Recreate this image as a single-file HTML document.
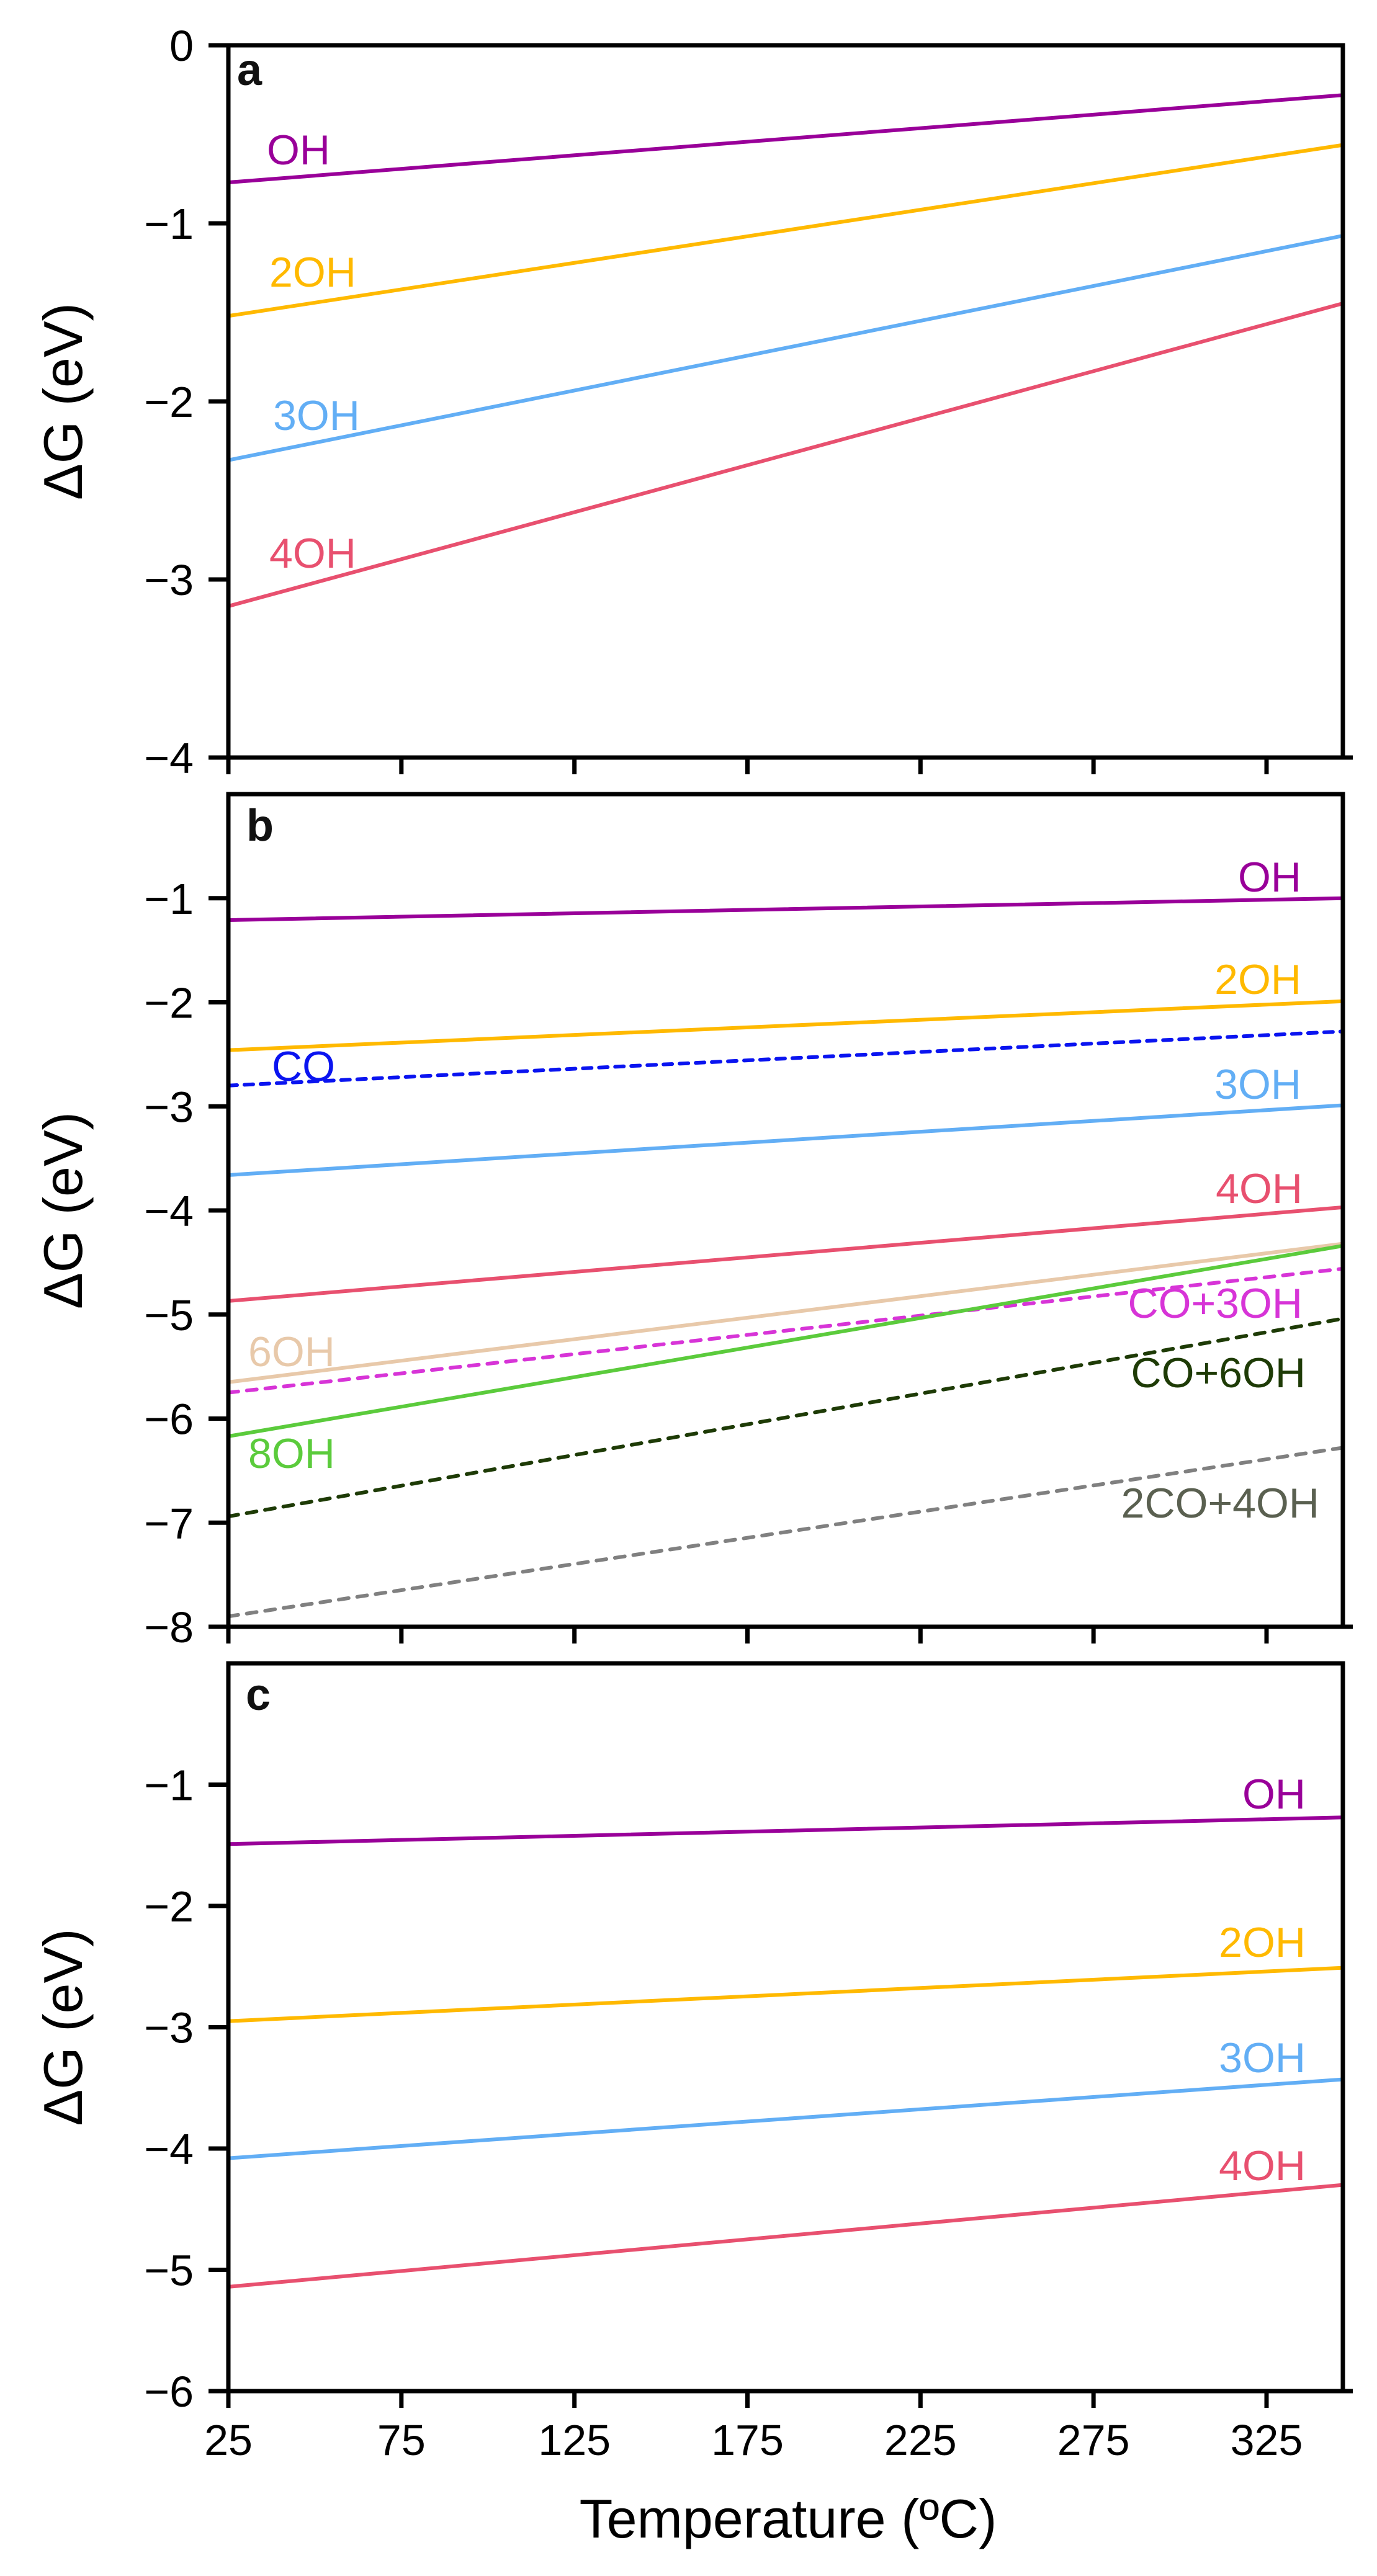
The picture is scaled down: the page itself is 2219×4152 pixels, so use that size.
<!DOCTYPE html>
<html><head><meta charset="utf-8">
<style>
html,body{margin:0;padding:0;background:#fff;}
svg{display:block;font-family:"Liberation Sans",Arial,sans-serif;}
</style></head>
<body>
<svg id="chart" width="2219" height="4152" viewBox="0 0 2219 4152" xmlns="http://www.w3.org/2000/svg"></svg>
<script>
// ---- data ----
const xTicks = [25, 75, 125, 175, 225, 275, 325];
const tStart = 25, tEnd = 347;
// panel a
const aNames = ["OH", "2OH", "3OH", "4OH"];
const aStart = [-0.77, -1.52, -2.33, -3.15];
const aEnd = [-0.28, -0.56, -1.07, -1.45];
const aTicks = [0, -1, -2, -3, -4];
// panel b
const bNames = ["OH", "2OH", "CO", "3OH", "4OH", "6OH", "CO+3OH", "8OH", "CO+6OH", "2CO+4OH"];
const bStart = [-1.21, -2.46, -2.8, -3.66, -4.87, -5.65, -5.75, -6.17, -6.94, -7.9];
const bEnd = [-1.0, -1.99, -2.28, -2.99, -3.97, -4.32, -4.56, -4.34, -5.04, -6.28];
const bTicks = [-1, -2, -3, -4, -5, -6, -7, -8];
// panel c
const cNames = ["OH", "2OH", "3OH", "4OH"];
const cStart = [-1.49, -2.95, -4.08, -5.14];
const cEnd = [-1.27, -2.51, -3.43, -4.30];
const cTicks = [-1, -2, -3, -4, -5, -6];

const NS = "http://www.w3.org/2000/svg";
const svg = document.getElementById("chart");
function mk(tag, attrs, parent) {
  const e = document.createElementNS(NS, tag);
  for (const k in attrs) e.setAttribute(k, attrs[k]);
  (parent || svg).appendChild(e);
  return e;
}
const X0 = 368, X1 = 2164;
function xs(t) { return 368 + (t - 25) * (2041 - 368) / 300; }

const colors = {"OH":"#990099","2OH":"#FFB900","3OH":"#62AEF5","4OH":"#E8506F","CO":"#0A14F0",
  "6OH":"#E8C9AA","CO+3OH":"#D734D7","8OH":"#5BCB3C","CO+6OH":"#1E3B06","2CO+4OH":"#808080"};
const dashed = {"CO":"14,12","CO+3OH":"16,14","CO+6OH":"16,14","2CO+4OH":"16,14"};

function panel(key, top, bottom, ymax, ymin, ticks, names, starts, ends, labels, letter, tickLabelsBottom) {
  const g = mk("g", {});
  
  
  const ys = v => top + (ymax - v) * (bottom - top) / (ymax - ymin);
  names.forEach((n, i) => {
    const l = mk("line", {x1: xs(tStart), y1: ys(starts[i]), x2: xs(tEnd), y2: ys(ends[i]),
      stroke: colors[n], "stroke-width": 6, "stroke-linecap": "round"}, g);
    if (dashed[n]) l.setAttribute("stroke-dasharray", dashed[n]);
    
    
  });
  const f = mk("rect", {x: X0, y: top, width: X1 - X0, height: bottom - top, fill: "none", stroke: "#000", "stroke-width": 7}, g);
  
  
  mk("line", {x1: X0, y1: bottom, x2: 2180, y2: bottom, stroke: "#000", "stroke-width": 7}, g);
  ticks.forEach(v => {
    const y = ys(v);
    mk("line", {x1: 336, y1: y, x2: X0, y2: y, stroke: "#000", "stroke-width": 7}, g);
    const t = mk("text", {x: 312, y: y + 25, "text-anchor": "end", "font-size": 70, fill: "#000"}, g);
    t.textContent = (v < 0 ? "\u2212" : "") + Math.abs(v);
    
    
  });
  xTicks.forEach(v => {
    mk("line", {x1: xs(v), y1: bottom, x2: xs(v), y2: bottom + 27, stroke: "#000", "stroke-width": 7}, g);
    if (tickLabelsBottom) {
      const t = mk("text", {x: xs(v), y: bottom + 103, "text-anchor": "middle", "font-size": 70, fill: "#000"}, g);
      t.textContent = v;
      
      
    }
  });
  labels.forEach(L => {
    const t = mk("text", {x: L[1], y: L[2], "text-anchor": L[3], "font-size": 68, fill: L[4] || colors[L[0]]}, g);
    t.textContent = L[0];
    
    
  });
  const lt = mk("text", {x: letter[0], y: letter[1], "font-size": 72, "font-weight": "bold", fill: "#111"}, g);
  lt.textContent = key;
  
  
  const yt = mk("text", {x: 0, y: 0, "text-anchor": "middle", "font-size": 88, fill: "#000",
    transform: "translate(132," + ((top + bottom) / 2) + ") rotate(-90)"}, g);
  yt.textContent = "\u0394G (eV)";
  
  
}

panel("a", 73, 1221, 0, -4, aTicks, aNames, aStart, aEnd, [
  ["OH", 430, 265, "start"], ["2OH", 434, 462, "start"], ["3OH", 440, 693, "start"], ["4OH", 434, 915, "start"]
], [382, 137], false);

panel("b", 1280, 2622, 0, -8, bTicks, bNames, bStart, bEnd, [
  ["OH", 2097, 1437, "end"], ["2OH", 2097, 1602, "end"], ["3OH", 2097, 1771, "end"], ["4OH", 2099, 1939, "end"],
  ["CO", 438, 1742, "start"], ["6OH", 400, 2202, "start"], ["8OH", 400, 2366, "start"],
  ["CO+3OH", 2099, 2124, "end"], ["CO+6OH", 2104, 2236, "end"], ["2CO+4OH", 2126, 2446, "end", "#5A6050"]
], [397, 1355], false);

panel("c", 2681, 3854, 0, -6, cTicks, cNames, cStart, cEnd, [
  ["OH", 2104, 2915, "end"], ["2OH", 2104, 3154, "end"], ["3OH", 2104, 3340, "end"], ["4OH", 2104, 3514, "end"]
], [396, 2756], true);

const xt = mk("text", {x: 1270, y: 4090, "text-anchor": "middle", "font-size": 88, fill: "#000"});
xt.textContent = "Temperature (\u00BAC)";


</script>
</body></html>
